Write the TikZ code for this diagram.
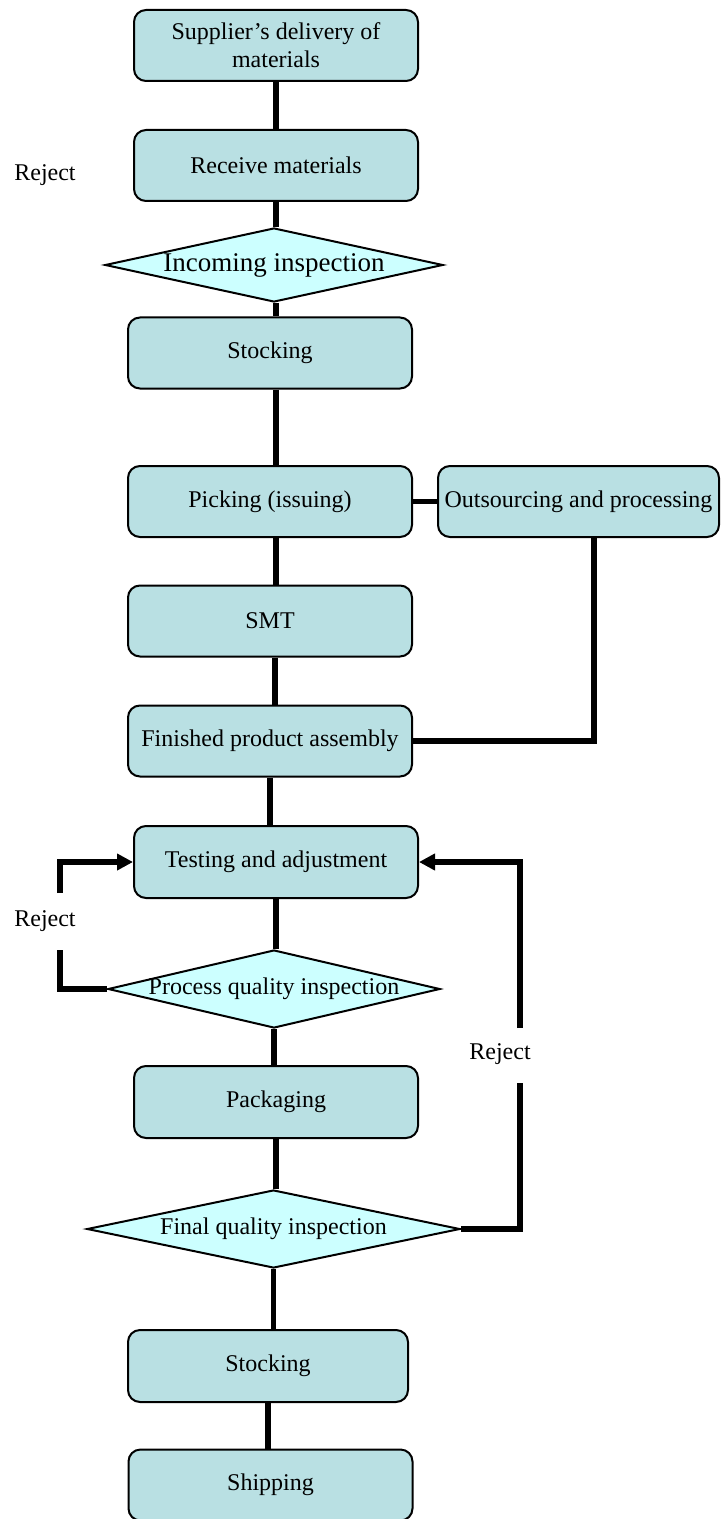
\documentclass[tikz,border=0pt]{standalone}
\usepackage{fontspec}
\setmainfont{Liberation Serif}
\usepackage{tikz}
\usetikzlibrary{shapes.geometric,arrows.meta}

\definecolor{boxfill}{RGB}{185,224,227}
\definecolor{checkfill}{RGB}{204,255,255}
\newcommand{\dtext}[1]{\makebox[0pt]{#1}}

\tikzset{
    stepbox/.style={rectangle, rounded corners=6pt, draw, line width=1pt,
        fill=boxfill, minimum width=142pt, minimum height=35.5pt,
        inner sep=0pt, align=center, font=\fontsize{12}{14}\selectfont},
    check/.style={diamond, draw, line width=1pt, fill=checkfill,
        inner sep=0pt, font=\fontsize{12}{14}\selectfont},
    flow/.style={line width=2.8pt},
    back/.style={line width=2.8pt, -{Triangle[length=8pt,width=8pt]}},
    note/.style={font=\fontsize{12}{14}\selectfont}
}

\begin{document}
\begin{tikzpicture}[x=0.5pt,y=-0.5pt]
    \useasboundingbox (0,0) rectangle (720,1519);
    % Draw process boxes
    \node[stepbox] (sup) at (276,45.5) {Supplier's delivery of\\materials};
    \node[stepbox] (recv) at (276,165.5) {Receive materials};
    \node[check, minimum width=169pt, minimum height=37pt,
        font=\fontsize{13.5}{15}\selectfont] (inc) at (274,265) {\dtext{Incoming inspection}};
    \node[stepbox] (stock) at (270,353) {Stocking};
    \node[stepbox] (pick) at (270,501.5) {Picking (issuing)};
    \node[stepbox, minimum width=140.5pt] (out) at (578.5,501.5) {Outsourcing and processing};
    \node[stepbox] (smt) at (270,621) {SMT};
    \node[stepbox] (fpa) at (270,741) {Finished product assembly};
    \node[stepbox, minimum height=36pt] (test) at (276,862) {Testing and adjustment};
    \node[check, minimum width=166pt, minimum height=39pt] (pqi) at (274,989) {\dtext{Process quality inspection}};
    \node[stepbox, minimum height=36pt] (pack) at (276,1102) {Packaging};
    \node[check, minimum width=186.5pt, minimum height=39pt] (fqi) at (273.5,1229) {\dtext{Final quality inspection}};
    \node[stepbox, minimum width=140pt, minimum height=36pt] (stockb) at (268,1366) {Stocking};
    \node[stepbox] (ship) at (270.5,1485) {Shipping};

    % Reject labels
    \node[note] (rejA) at (45,175) {Reject};
    \node[note] (rejB) at (45,921) {Reject};
    \node[note] (rejC) at (500,1054) {Reject};

    % Draw main flow
    \draw[flow] (sup.south) -- (sup.south |- recv.north);
    \draw[flow] (recv.south) -- (recv.south |- inc.north);
    \draw[flow] ([xshift=1pt]inc.south) -- ([xshift=1pt]inc.south |- stock.north);
    \draw[flow] ([xshift=3pt]stock.south) -- ([xshift=3pt]stock.south |- pick.north);
    \draw[flow] ([xshift=3pt]pick.south) -- ([xshift=3pt]pick.south |- smt.north);
    \draw[flow] ([xshift=2.5pt]smt.south) -- ([xshift=2.5pt]smt.south |- fpa.north);
    \draw[flow] (fpa.south) -- (fpa.south |- test.north);
    \draw[flow] (test.south) -- (test.south |- pqi.north);
    \draw[flow] (pqi.south) -- (pqi.south |- pack.north);
    \draw[flow] (pack.south) -- (pack.south |- fqi.north);
    \draw[flow] (fqi.south) -- (fqi.south |- stockb.north);
    \draw[flow] (stockb.south) -- (stockb.south |- ship.north);

    % Outsourcing branch
    \coordinate (outdown) at (594,0);
    \draw[flow] (pick.east) -- (out.west);
    \draw[flow] (out.south -| outdown) |- (fpa.east);

    % Reject loops back to testing
    \coordinate (ltop) at (60,893);
    \coordinate (lbot) at (60,950);
    \draw[flow] (pqi.west) -| (lbot);
    \draw[back] (ltop) |- (test.west);
    \coordinate (rtop) at (520,1028);
    \coordinate (rbot) at (520,1083);
    \draw[flow] (fqi.east) -| (rbot);
    \draw[back] (rtop) |- (test.east);
\end{tikzpicture}
\end{document}
